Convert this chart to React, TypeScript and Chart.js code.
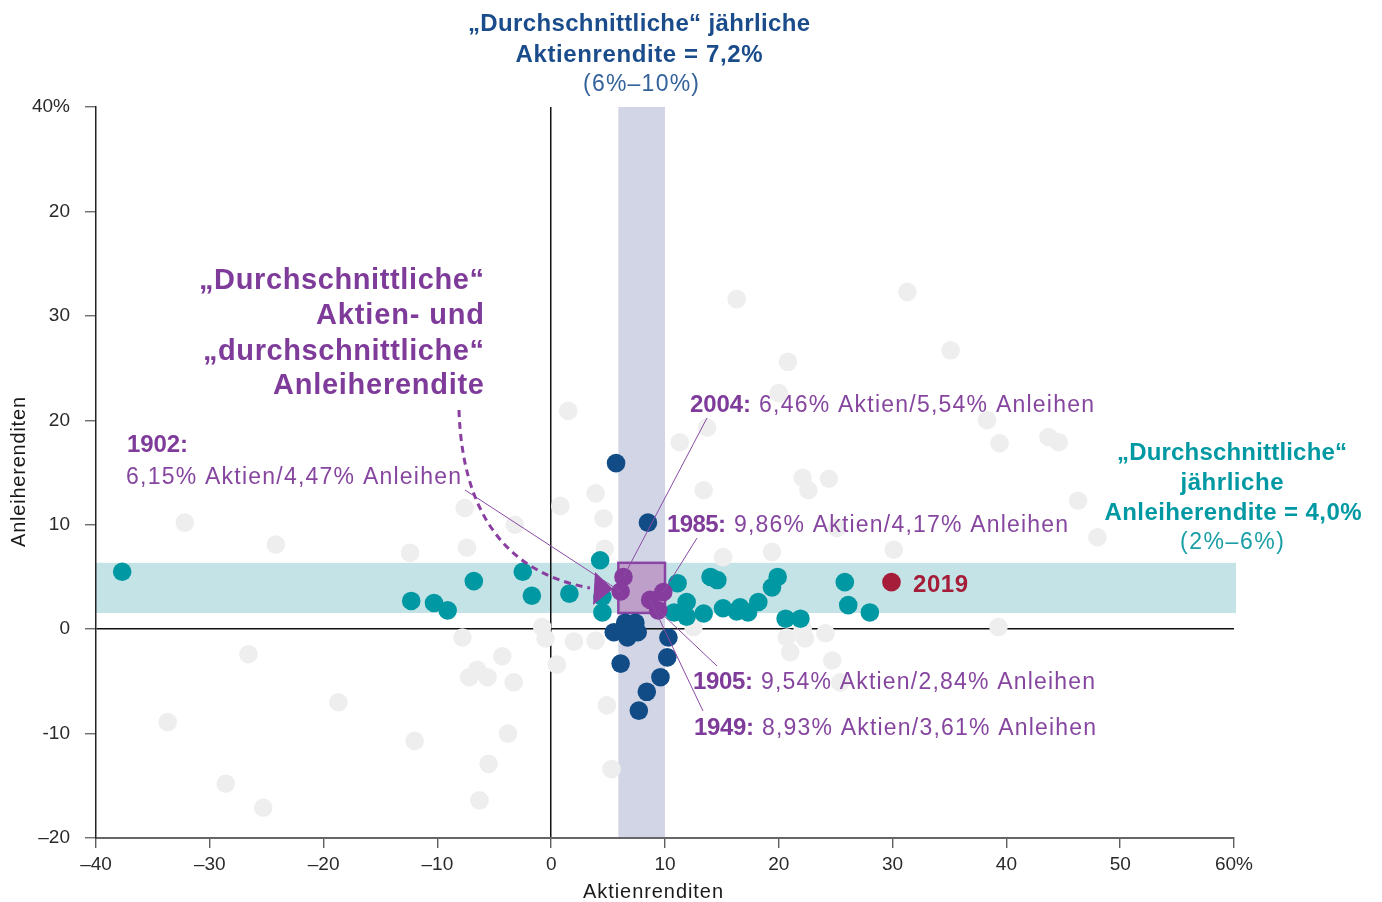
import React, { useEffect, useRef } from 'react';
import { Chart, registerables } from 'chart.js';

Chart.register(...registerables);

// ---- Axes ----
const X_MIN = -40;
const X_MAX = 60;
const Y_MIN = -20;
const Y_MAX = 50;
const X_TICK_VALUES = [-40, -30, -20, -10, 0, 10, 20, 30, 40, 50, 60];
const X_TICK_LABELS = ['–40', '–30', '–20', '–10', '0', '10', '20', '30', '40', '50', '60%'];
const Y_TICK_VALUES = [-20, -10, 0, 10, 20, 30, 40, 50];
const Y_TICK_LABELS = ['–20', '-10', '0', '10', '20', '30', '20', '40%'];

// ---- Average ranges (bands) ----
const STOCK_AVG_BAND = [5.9, 10.0];
const BOND_AVG_BAND = [1.55, 6.35];

// ---- Data: [Aktienrendite, Anleiherendite] ----
const OTHER_YEARS: [number, number][] = [
  [-32.2, 10.2], [-24.2, 8.1], [-26.6, -2.4], [-33.7, -8.9], [-28.6, -14.8], [-25.3, -17.1],
  [-18.7, -7.0], [-12.4, 7.3], [-12.0, -10.7], [-7.8, -0.8], [-7.6, 11.6], [-7.4, 7.8],
  [-7.2, -4.6], [-6.5, -3.9], [-5.6, -4.6], [-6.3, -16.4], [-5.5, -12.9], [-4.3, -2.6],
  [-3.8, -10.0], [-3.3, -5.1], [-3.2, 10.0], [-0.8, 0.2], [-0.5, -0.9], [0.5, -3.4],
  [0.8, 11.8], [1.5, 20.9], [2.0, -1.2], [3.9, 13.0], [3.9, -1.1], [4.6, 10.6], [4.7, 7.7],
  [4.9, -7.3], [5.3, -13.4], [11.3, 17.9], [13.7, 19.3], [13.4, 13.3], [15.1, 6.9],
  [16.3, 31.6], [31.3, 32.3], [35.1, 26.7], [20.8, 25.6], [20.0, 22.6], [38.3, 20.0],
  [39.4, 17.8], [43.7, 18.4], [44.6, 17.9], [22.1, 14.5], [22.6, 13.3], [24.4, 14.4],
  [46.3, 12.3], [48.0, 8.8], [30.1, 7.6], [25.1, 9.7], [19.4, 7.4], [12.5, 0.2], [39.3, 0.2],
  [20.7, -0.8], [22.1, 0.1], [22.3, -0.9], [24.1, -0.4], [21.0, -2.2], [24.7, -3.0], [25.4, -5.1],
];

const BOND_AVG_YEARS: [number, number][] = [
  [-37.7, 5.5], [-12.3, 2.7], [-10.3, 2.5], [-9.1, 1.8], [-6.8, 4.6], [-2.5, 5.5], [-1.7, 3.2],
  [1.6, 3.4], [4.3, 6.6], [4.5, 3.1], [4.5, 1.6], [11.1, 4.4], [11.9, 2.6], [11.9, 1.2],
  [10.8, 1.6], [13.4, 1.5], [14.0, 5.0], [14.6, 4.7], [15.1, 2.0], [16.3, 1.7], [16.6, 2.1],
  [17.3, 1.6], [18.2, 2.6], [19.4, 4.0], [19.9, 5.0], [20.6, 1.0], [21.9, 1.0], [25.8, 4.5],
  [26.1, 2.3], [28.0, 1.6],
];

const STOCK_AVG_YEARS: [number, number][] = [
  [5.7, 15.9], [8.5, 10.2], [6.5, 0.6], [7.4, 0.6], [5.5, -0.3], [6.7, -0.8], [7.6, -0.3],
  [10.3, -0.8], [10.2, -2.7], [6.1, -3.3], [9.6, -4.6], [8.4, -6.0], [7.7, -7.8],
];

const BOTH_AVG_YEARS: [number, number][] = [
  [6.1, 3.6], [6.35, 5.0], [9.85, 3.55], [9.4, 1.8], [8.7, 2.8],
];
const BOTH_AVG_LABELS = ['1902:', '2004:', '1985:', '1905:', '1949:'];
const BOTH_AVG_TEXTS = [
  '6,15% Aktien/4,47% Anleihen',
  '6,46% Aktien/5,54% Anleihen',
  '9,86% Aktien/4,17% Anleihen',
  '9,54% Aktien/2,84% Anleihen',
  '8,93% Aktien/3,61% Anleihen',
];

const YEAR_2019: [number, number][] = [[29.9, 4.5]];

// ---- Colors ----
const C_GRAY = '#eeeeee';
const C_TEAL = '#0098a2';
const C_BLUE = '#114c86';
const C_PURPLE = '#853c9d';
const C_RED = '#a51d38';
const C_PURPLE_TXT = '#7e3b99';
const C_PURPLE_REG = '#86469f';
const C_BLUE_TXT = '#1a4c8b';
const C_TEAL_TXT = '#0099a3';

const FONT = '"Liberation Sans", Arial, sans-serif';

function fitText(
  ctx: CanvasRenderingContext2D,
  text: string,
  x: number,
  y: number,
  font: string,
  color: string,
  target: number,
  align: 'left' | 'center' | 'right',
) {
  ctx.save();
  ctx.font = font;
  ctx.fillStyle = color;
  ctx.textBaseline = 'alphabetic';
  ctx.textAlign = 'left';
  const anyCtx = ctx as any;
  if ('letterSpacing' in anyCtx) anyCtx.letterSpacing = '0px';
  const w0 = ctx.measureText(text).width;
  const chars = Array.from(text);
  const n = chars.length;
  let ls = n > 1 ? (target - w0) / (n - 1) : 0;
  ls = Math.max(-2, Math.min(6, ls));
  const total = w0 + ls * (n - 1);
  let x0 = align === 'center' ? x - total / 2 : align === 'right' ? x - total : x;
  if ('letterSpacing' in anyCtx) {
    anyCtx.letterSpacing = ls + 'px';
    ctx.fillText(text, x0, y);
    anyCtx.letterSpacing = '0px';
  } else {
    for (const ch of chars) {
      ctx.fillText(ch, x0, y);
      x0 += ctx.measureText(ch).width + ls;
    }
  }
  ctx.restore();
}

// label layout (pixels): [boldX, regX, baseline, boldW, regW]
const LABEL_LAYOUT: [number, number, number, number, number][] = [
  [127, 126, 484, 61, 335],
  [690, 759, 412, 61, 335],
  [667, 734, 532, 59, 334],
  [693, 761, 689, 60, 334],
  [694, 762, 735, 60, 334],
];
// leader line starts (pixels)
const LEADER_STARTS: [number, number][] = [
  [465, 490], [707, 418], [697, 538], [717, 666], [703, 711],
];

const overlayPlugin = {
  id: 'overlay',
  beforeDraw(chart: any) {
    const { ctx, chartArea: a, scales } = chart;
    const xs = scales.x;
    const ys = scales.y;
    ctx.save();
    const by1 = ys.getPixelForValue(BOND_AVG_BAND[1]);
    const by0 = ys.getPixelForValue(BOND_AVG_BAND[0]);
    const sx0 = xs.getPixelForValue(STOCK_AVG_BAND[0]);
    const sx1 = xs.getPixelForValue(STOCK_AVG_BAND[1]);
    ctx.fillStyle = '#c4e3e6';
    ctx.fillRect(a.left, by1, a.right - a.left + 2, by0 - by1);
    ctx.fillStyle = '#d1d5e5';
    ctx.fillRect(sx0, a.top, sx1 - sx0, a.bottom - a.top);
    ctx.fillStyle = '#bd9fc9';
    ctx.fillRect(sx0, by1, sx1 - sx0, by0 - by1);
    ctx.strokeStyle = '#8b44a3';
    ctx.lineWidth = 2.5;
    ctx.strokeRect(sx0, by1, sx1 - sx0, by0 - by1);
    ctx.restore();
  },
  afterDatasetsDraw(chart: any) {
    const { ctx, scales } = chart;
    const xs = scales.x;
    const ys = scales.y;
    ctx.save();

    // leader lines
    ctx.strokeStyle = '#8a4aa5';
    ctx.lineWidth = 1;
    BOTH_AVG_YEARS.forEach((p, i) => {
      const [sx, sy] = LEADER_STARTS[i];
      ctx.beginPath();
      ctx.moveTo(sx, sy);
      ctx.lineTo(xs.getPixelForValue(p[0]), ys.getPixelForValue(p[1]));
      ctx.stroke();
    });

    // dashed curved arrow
    ctx.strokeStyle = '#8a3fa0';
    ctx.lineWidth = 3;
    ctx.setLineDash([7, 5]);
    ctx.beginPath();
    ctx.moveTo(459, 410);
    ctx.bezierCurveTo(462, 505, 500, 572, 590, 588);
    ctx.stroke();
    ctx.setLineDash([]);
    ctx.fillStyle = '#8a3fa0';
    ctx.beginPath();
    ctx.moveTo(595, 572);
    ctx.lineTo(593, 605);
    ctx.lineTo(613, 589);
    ctx.closePath();
    ctx.fill();
    ctx.restore();

    // texts
    const B = (s: number) => `bold ${s}px ${FONT}`;
    const R = (s: number) => `${s}px ${FONT}`;

    // top title
    fitText(ctx, '„Durchschnittliche“ jährliche', 639, 31, B(24), C_BLUE_TXT, 342, 'center');
    fitText(ctx, 'Aktienrendite = 7,2%', 639, 62, B(24), C_BLUE_TXT, 247, 'center');
    fitText(ctx, '(6%–10%)', 641, 91, R(23), '#34629b', 116, 'center');

    // left purple
    fitText(ctx, '„Durchschnittliche“', 484, 289, B(29), C_PURPLE_TXT, 285, 'right');
    fitText(ctx, 'Aktien- und', 484, 324, B(29), C_PURPLE_TXT, 168, 'right');
    fitText(ctx, '„durchschnittliche“', 484, 360, B(29), C_PURPLE_TXT, 281, 'right');
    fitText(ctx, 'Anleiherendite', 484, 394, B(29), C_PURPLE_TXT, 211, 'right');

    // year labels
    BOTH_AVG_LABELS.forEach((lab, i) => {
      const [bx, rx, base, bw, rw] = LABEL_LAYOUT[i];
      const bBase = i === 0 ? 452 : base;
      fitText(ctx, lab, bx, bBase, B(24), C_PURPLE_TXT, bw, 'left');
      fitText(ctx, BOTH_AVG_TEXTS[i], rx, base, R(23), C_PURPLE_REG, rw, 'left');
    });

    // 2019
    fitText(ctx, '2019', 913, 592, B(24), C_RED, 55, 'left');

    // right teal
    fitText(ctx, '„Durchschnittliche“', 1232, 460, B(24), C_TEAL_TXT, 230, 'center');
    fitText(ctx, 'jährliche', 1232, 490, B(24), C_TEAL_TXT, 103, 'center');
    fitText(ctx, 'Anleiherendite = 4,0%', 1233, 520, B(24), C_TEAL_TXT, 257, 'center');
    fitText(ctx, '(2%–6%)', 1232, 549, R(23), '#1a9ea6', 104, 'center');

    // axis titles
    fitText(ctx, 'Aktienrenditen', 653, 898, R(20), '#1a1a1a', 140, 'center');
    ctx.save();
    ctx.translate(25, 472);
    ctx.rotate(-Math.PI / 2);
    fitText(ctx, 'Anleiherenditen', 0, 0, R(20), '#1a1a1a', 150, 'center');
    ctx.restore();
  },
};

const toXY = (arr: [number, number][]) => arr.map(([x, y]) => ({ x, y }));

function pointSet(label: string, arr: [number, number][], color: string, order: number) {
  return {
    label,
    data: toXY(arr),
    backgroundColor: color,
    pointBackgroundColor: color,
    borderWidth: 0,
    pointBorderWidth: 0,
    pointRadius: 9.3,
    pointHoverRadius: 9.3,
    order,
  };
}

export default function App() {
  const ref = useRef<HTMLCanvasElement>(null);
  useEffect(() => {
    if (!ref.current) return;
    const chart = new Chart(ref.current, {
      type: 'scatter',
      data: {
        datasets: [
          pointSet('Andere Jahre', OTHER_YEARS, C_GRAY, 5),
          pointSet('Durchschnittliche Anleiherendite', BOND_AVG_YEARS, C_TEAL, 4),
          pointSet('Durchschnittliche Aktienrendite', STOCK_AVG_YEARS, C_BLUE, 3),
          pointSet('Beide durchschnittlich', BOTH_AVG_YEARS, C_PURPLE, 2),
          pointSet('2019', YEAR_2019, C_RED, 1),
        ] as any,
      },
      options: {
        responsive: false,
        animation: false,
        events: [],
        devicePixelRatio: 1,
        layout: { padding: { left: 0, top: 107, right: 148, bottom: 0 } },
        plugins: { legend: { display: false }, tooltip: { enabled: false } },
        scales: {
          x: {
            type: 'linear',
            min: X_MIN,
            max: X_MAX,
            afterFit: (s: any) => { s.height = 64; },
            afterBuildTicks: (s: any) => { s.ticks = X_TICK_VALUES.map((v) => ({ value: v })); },
            ticks: {
              stepSize: 10,
              autoSkip: false,
              maxRotation: 0,
              padding: 5,
              color: '#2a2a2a',
              font: { family: FONT, size: 19 },
              callback: (v: any) => {
                const i = X_TICK_VALUES.indexOf(Number(v));
                return i >= 0 ? X_TICK_LABELS[i] : '';
              },
            },
            grid: {
              color: (c: any) => (c.tick && c.tick.value === 0 ? '#111' : 'rgba(0,0,0,0)'),
              lineWidth: 1.5,
              tickColor: '#444',
              tickWidth: 1.2,
              tickLength: 10,
            },
            border: { display: true, color: '#666', width: 2 },
          },
          y: {
            type: 'linear',
            min: Y_MIN,
            max: Y_MAX,
            afterFit: (s: any) => { s.width = 96; },
            afterBuildTicks: (s: any) => { s.ticks = Y_TICK_VALUES.map((v) => ({ value: v })); },
            ticks: {
              stepSize: 10,
              autoSkip: false,
              padding: 15,
              color: '#2a2a2a',
              font: { family: FONT, size: 19 },
              callback: (v: any) => {
                const i = Y_TICK_VALUES.indexOf(Number(v));
                return i >= 0 ? Y_TICK_LABELS[i] : '';
              },
            },
            grid: {
              color: (c: any) => (c.tick && c.tick.value === 0 ? '#111' : 'rgba(0,0,0,0)'),
              lineWidth: 1.5,
              tickColor: '#555',
              tickWidth: 1.2,
              tickLength: 11,
            },
            border: { display: true, color: '#222', width: 1.5 },
          },
        },
      } as any,
      plugins: [overlayPlugin as any],
    });
    return () => chart.destroy();
  }, []);
  return (
    <div style={{ position: 'fixed', left: 0, top: 0, width: 1382, height: 902, background: '#fff' }}>
      <canvas ref={ref} width={1382} height={902} style={{ display: 'block' }} />
    </div>
  );
}
